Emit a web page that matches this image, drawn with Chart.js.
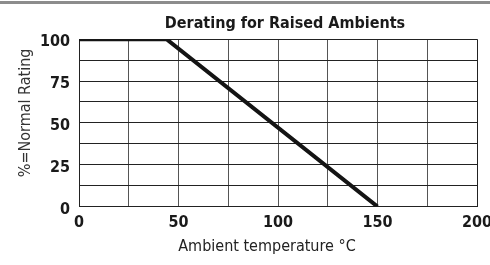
<!DOCTYPE html>
<html>
<head>
<meta charset="utf-8">
<script src="https://cdn.jsdelivr.net/npm/chart.js@4/dist/chart.umd.min.js"></script>
<style>
  html, body { margin: 0; padding: 0; background: #fff; }
  #wrap { position: relative; width: 490px; height: 265px; }
  canvas { display: block; }
</style>
</head>
<body>
<div id="wrap"><canvas id="c" width="490" height="265"></canvas></div>
<script>
// ---- data ----
const chartTitle = "Derating for Raised Ambients";
const xAxisTitle = "Ambient temperature °C";
const yAxisTitle = "%=Normal Rating";
const tempC   = [0, 44, 150];     // ambient temperature (°C)
const rating  = [100, 100, 0];    // % of normal rating
const xTickLabels = [0, 50, 100, 150, 200];
const yTickLabels = [0, 25, 50, 75, 100];

const FONT = "'DejaVu Sans Condensed', 'Liberation Sans Narrow', sans-serif";

const points = tempC.map((t, i) => ({ x: t, y: rating[i] }));

const shiftPlugin = {
  id: 'shift',
  afterLayout(chart) {
    const tb = chart.titleBlock;
    if (tb && !tb._shifted) {
      const orig = tb.draw.bind(tb);
      tb.draw = function () { const c = chart.ctx; c.save(); c.translate(7, 0); orig(); c.restore(); };
      tb._shifted = true;
    }
    const sx = chart.scales.x, sy = chart.scales.y;
    if (!sx._shifted) {
      const o = sx.drawTitle.bind(sx);
      sx.drawTitle = function (a) { const c = chart.ctx; c.save(); c.translate(-11, -3); o(a); c.restore(); };
      sx._shifted = true;
    }
    if (!sy._shifted) {
      const o = sy.drawTitle.bind(sy);
      sy.drawTitle = function (a) { const c = chart.ctx; c.save(); c.translate(0, -10); o(a); c.restore(); };
      sy._shifted = true;
    }
  },
  beforeDraw(chart) {
    const c = chart.ctx;
    c.save();
    c.fillStyle = '#8c8c8c';
    c.fillRect(0, 1, chart.width, 3);
    c.restore();
  }
};

new Chart(document.getElementById('c'), {
  type: 'line',
  data: {
    datasets: [{
      data: points,
      borderColor: '#141414',
      borderWidth: 4,
      pointRadius: 0,
      tension: 0,
      borderJoinStyle: 'miter'
    }]
  },
  options: {
    responsive: false,
    animation: false,
    events: [],
    layout: { padding: { left: 0, right: 13, top: 0, bottom: 1 } },
    plugins: {
      legend: { display: false },
      tooltip: { enabled: false },
      title: {
        display: true,
        fullSize: false,
        text: chartTitle,
        color: '#1a1a1a',
        font: { family: FONT, size: 16, weight: 'bold', lineHeight: 1.2 },
        padding: { top: 14, bottom: 6 }
      }
    },
    scales: {
      x: {
        type: 'linear',
        min: 0, max: 200,
        afterBuildTicks(s) { s.ticks = []; for (let v = 0; v <= 200; v += 25) s.ticks.push({ value: v }); },
        afterFit(s) { s.paddingRight = 0; },
        ticks: {
          autoSkip: false,
          maxRotation: 0,
          padding: 7,
          color: '#1a1a1a',
          font: { family: FONT, size: 16, weight: 'bold', lineHeight: 1.2 },
          callback: (v) => xTickLabels.includes(v) ? String(v) : ''
        },
        grid: {
          drawTicks: false,
          lineWidth: 1,
          color: (ctx) => (ctx.index === 0 || ctx.index === 8) ? '#222' : '#555'
        },
        border: { color: '#222', width: 1 },
        title: {
          display: true,
          text: xAxisTitle,
          color: '#222',
          font: { family: FONT, size: 16, weight: 'normal', lineHeight: 1.2 },
          padding: { top: 0, bottom: 5 }
        }
      },
      y: {
        type: 'linear',
        min: 0, max: 100,
        afterBuildTicks(s) { s.ticks = []; for (let v = 0; v <= 100; v += 12.5) s.ticks.push({ value: v }); },
        afterFit(s) { s.width = 79; },
        ticks: {
          autoSkip: false,
          padding: 9,
          labelOffset: 3,
          color: '#1a1a1a',
          font: { family: FONT, size: 16, weight: 'bold', lineHeight: 1.2 },
          callback: (v) => yTickLabels.includes(v) ? String(v) : ''
        },
        grid: {
          drawTicks: false,
          lineWidth: 1,
          color: '#222'
        },
        border: { color: '#222', width: 1 },
        title: {
          display: true,
          text: yAxisTitle,
          color: '#333',
          font: { family: FONT, size: 16, weight: 'normal', lineHeight: 1.2 },
          padding: { top: 16, bottom: 0 }
        }
      }
    }
  },
  plugins: [shiftPlugin]
});
</script>
</body>
</html>
